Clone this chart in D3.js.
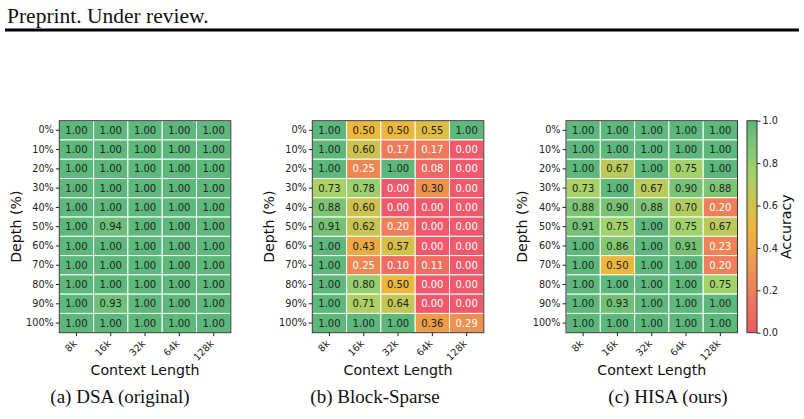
<!DOCTYPE html>
<html lang="en">
  <head>
    <meta charset="UTF-8" />
    <title>Needle heatmaps</title>
    <script src="https://cdn.jsdelivr.net/npm/d3@7"></script>
    <style>
      body { margin: 0; background: #fff; }
      svg { display: block; }
      .tick text { font-family: "DejaVu Sans", sans-serif; font-size: 9.7px; fill: #222; }
      .tick line { stroke: #222; }
      .domain { display: none; }
    </style>
  </head>
  <body>
    <svg width="804" height="419"></svg>
    <script>
      // data
      const depths = ["0%", "10%", "20%", "30%", "40%", "50%", "60%", "70%", "80%", "90%", "100%"];
      const contexts = ["8k", "16k", "32k", "64k", "128k"];

      const dsa = [
        [1.00, 1.00, 1.00, 1.00, 1.00],
        [1.00, 1.00, 1.00, 1.00, 1.00],
        [1.00, 1.00, 1.00, 1.00, 1.00],
        [1.00, 1.00, 1.00, 1.00, 1.00],
        [1.00, 1.00, 1.00, 1.00, 1.00],
        [1.00, 0.94, 1.00, 1.00, 1.00],
        [1.00, 1.00, 1.00, 1.00, 1.00],
        [1.00, 1.00, 1.00, 1.00, 1.00],
        [1.00, 1.00, 1.00, 1.00, 1.00],
        [1.00, 0.93, 1.00, 1.00, 1.00],
        [1.00, 1.00, 1.00, 1.00, 1.00]
      ];
      const blockSparse = [
        [1.00, 0.50, 0.50, 0.55, 1.00],
        [1.00, 0.60, 0.17, 0.17, 0.00],
        [1.00, 0.25, 1.00, 0.08, 0.00],
        [0.73, 0.78, 0.00, 0.30, 0.00],
        [0.88, 0.60, 0.00, 0.00, 0.00],
        [0.91, 0.62, 0.20, 0.00, 0.00],
        [1.00, 0.43, 0.57, 0.00, 0.00],
        [1.00, 0.25, 0.10, 0.11, 0.00],
        [1.00, 0.80, 0.50, 0.00, 0.00],
        [1.00, 0.71, 0.64, 0.00, 0.00],
        [1.00, 1.00, 1.00, 0.36, 0.29]
      ];
      const hisa = [
        [1.00, 1.00, 1.00, 1.00, 1.00],
        [1.00, 1.00, 1.00, 1.00, 1.00],
        [1.00, 0.67, 1.00, 0.75, 1.00],
        [0.73, 1.00, 0.67, 0.90, 0.88],
        [0.88, 0.90, 0.88, 0.70, 0.20],
        [0.91, 0.75, 1.00, 0.75, 0.67],
        [1.00, 0.86, 1.00, 0.91, 0.23],
        [1.00, 0.50, 1.00, 1.00, 0.20],
        [1.00, 1.00, 1.00, 1.00, 0.75],
        [1.00, 0.93, 1.00, 1.00, 1.00],
        [1.00, 1.00, 1.00, 1.00, 1.00]
      ];
      const captions = ["(a) DSA (original)", "(b) Block-Sparse", "(c) HISA (ours)"];
      const colorbarTicks = [0, 0.2, 0.4, 0.6, 0.8, 1.0];

      const panels = [
        { grid: dsa, left: 59.3, capX: 120 },
        { grid: blockSparse, left: 312.3, capX: 375 },
        { grid: hisa, left: 566, capX: 668 }
      ];
      const boxTop = 120.7, boxW = 171.5, boxH = 212;

      // red -> amber -> light green -> green
      const color = d3.scaleLinear()
        .domain([0, 0.5, 0.75, 1])
        .range(["#f0596b", "#ecb73b", "#a2d36a", "#5cb87b"])
        .interpolate(d3.interpolateRgb)
        .clamp(true);

      const svg = d3.select("svg");

      // page header
      svg.append("text")
        .attr("x", 7).attr("y", 23)
        .attr("font-family", "Liberation Serif, serif")
        .attr("font-size", 21.5)
        .attr("fill", "#111")
        .text("Preprint. Under review.");
      svg.append("rect")
        .attr("x", 5).attr("y", 28.5).attr("width", 794).attr("height", 3)
        .attr("fill", "#000");

      panels.forEach((p, pi) => {
        const x = d3.scaleBand().domain(contexts).range([0, boxW]);
        const y = d3.scaleBand().domain(depths).range([0, boxH]);
        const g = svg.append("g").attr("transform", `translate(${p.left},${boxTop})`);

        const cells = [];
        p.grid.forEach((row, ri) => row.forEach((v, ci) => cells.push({ d: depths[ri], c: contexts[ci], v })));

        g.selectAll("rect.cell").data(cells).enter().append("rect")
          .attr("class", "cell")
          .attr("x", d => x(d.c)).attr("y", d => y(d.d))
          .attr("width", x.bandwidth()).attr("height", y.bandwidth())
          .attr("fill", d => color(d.v))
          .attr("stroke", "#fff").attr("stroke-width", 1);

        g.selectAll("text.val").data(cells).enter().append("text")
          .attr("class", "val")
          .attr("x", d => x(d.c) + x.bandwidth() / 2)
          .attr("y", d => y(d.d) + y.bandwidth() / 2)
          .attr("dy", "0.36em")
          .attr("text-anchor", "middle")
          .attr("font-family", "DejaVu Sans, sans-serif")
          .attr("font-size", 10)
          .attr("fill", d => d.v < 0.3 ? "#fff" : "#222")
          .text(d => d.v.toFixed(2));

        g.append("rect")
          .attr("width", boxW).attr("height", boxH)
          .attr("fill", "none").attr("stroke", "#333").attr("stroke-width", 1);

        g.append("g").call(d3.axisLeft(y).tickSize(3.5).tickPadding(2));

        const xa = g.append("g").attr("transform", `translate(0,${boxH})`)
          .call(d3.axisBottom(x).tickSize(3.5).tickPadding(2));
        xa.selectAll("text")
          .attr("text-anchor", "end")
          .attr("transform", "translate(-1.5,9) rotate(-45)")
          .attr("dy", "0.35em")
          .attr("y", 0);

        g.append("text")
          .attr("transform", `translate(-43.5,${boxH / 2}) rotate(-90)`)
          .attr("dy", "0.35em")
          .attr("text-anchor", "middle")
          .attr("font-family", "DejaVu Sans, sans-serif")
          .attr("font-size", 14.2)
          .attr("fill", "#111")
          .text("Depth (%)");

        g.append("text")
          .attr("x", boxW / 2).attr("y", 254)
          .attr("text-anchor", "middle")
          .attr("font-family", "DejaVu Sans, sans-serif")
          .attr("font-size", 14.2)
          .attr("fill", "#111")
          .text("Context Length");

        svg.append("text")
          .attr("x", p.capX).attr("y", 403)
          .attr("text-anchor", "middle")
          .attr("font-family", "Liberation Serif, serif")
          .attr("font-size", 19)
          .attr("fill", "#111")
          .text(captions[pi]);
      });

      // colorbar
      const cbX = 747, cbW = 10;
      const cbScale = d3.scaleLinear().domain([0, 1]).range([boxH, 0]);
      const defs = svg.append("defs");
      const grad = defs.append("linearGradient").attr("id", "cbgrad")
        .attr("x1", 0).attr("y1", 1).attr("x2", 0).attr("y2", 0);
      d3.range(0, 1.0001, 0.05).forEach(t => {
        grad.append("stop").attr("offset", t).attr("stop-color", color(t));
      });
      const cb = svg.append("g").attr("transform", `translate(${cbX},${boxTop})`);
      cb.append("rect").attr("width", cbW).attr("height", boxH).attr("fill", "url(#cbgrad)")
        .attr("stroke", "#333").attr("stroke-width", 1);
      cb.append("g").attr("transform", `translate(${cbW},0)`)
        .call(d3.axisRight(cbScale).tickValues(colorbarTicks).tickFormat(d3.format(".1f")).tickSize(3.5).tickPadding(2));
      cb.append("text")
        .attr("transform", `translate(39,${boxH / 2}) rotate(-90)`)
        .attr("dy", "0.35em")
        .attr("text-anchor", "middle")
        .attr("font-family", "DejaVu Sans, sans-serif")
        .attr("font-size", 14.2)
        .attr("fill", "#111")
        .text("Accuracy");
    </script>
  </body>
</html>
